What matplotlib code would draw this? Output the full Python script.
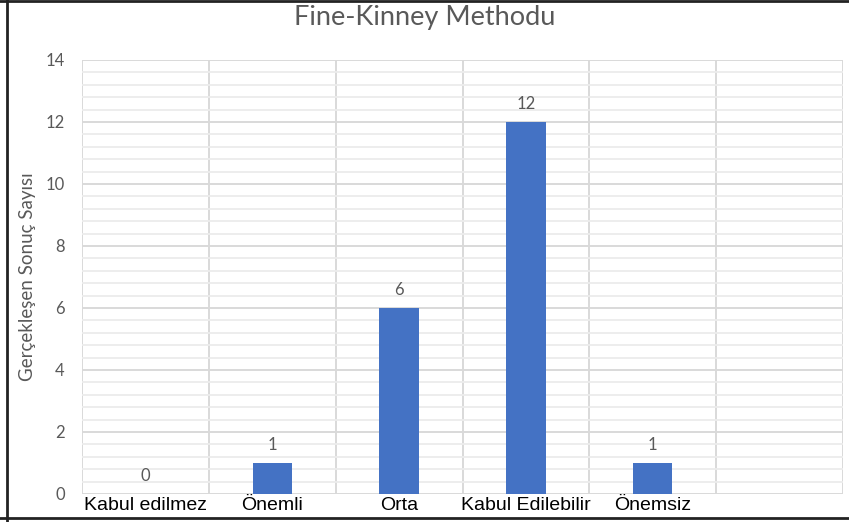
import matplotlib
matplotlib.use("Agg")
import matplotlib.pyplot as plt
from matplotlib.lines import Line2D
from matplotlib.ticker import MultipleLocator, FixedLocator
import numpy as np

# Risk classes and the number of results in each
categories = ["Kabul edilmez", "Önemli", "Orta", "Kabul Edilebilir", "Önemsiz"]
counts = [0, 1, 6, 12, 1]
n_slots = 6  # the category axis reserves one extra, empty slot on the right
y_ticks = [0, 2, 4, 6, 8, 10, 12, 14]

title = "Fine-Kinney Methodu"
y_label = "Gerçekleşen Sonuç Sayısı"

grey_text = "#595959"
bar_color = "#4472C4"

fig = plt.figure(figsize=(8.49, 5.22), dpi=100)
ax = fig.add_axes([82 / 849, 1 - 494 / 522, (843 - 82) / 849, (494 - 60) / 522])

x = np.arange(len(categories))
bars = ax.bar(x, counts, width=0.31, color=bar_color, zorder=3)

ax.set_xlim(-0.5, n_slots - 0.5)
ax.set_ylim(0, 14)

# Grid: major and minor horizontal lines, vertical lines on category boundaries
ax.yaxis.set_major_locator(FixedLocator(y_ticks))
ax.yaxis.set_minor_locator(MultipleLocator(0.4))
ax.xaxis.set_major_locator(FixedLocator(list(x)))
ax.xaxis.set_minor_locator(FixedLocator(np.arange(n_slots + 1) - 0.5))
ax.grid(axis="y", which="major", color="#d9d9d9", linewidth=1.4, zorder=0)
ax.grid(axis="y", which="minor", color="#ececec", linewidth=1.3, zorder=0)
ax.grid(axis="x", which="minor", color="#d9d9d9", linewidth=1.4, zorder=0)
ax.grid(axis="x", which="major", visible=False)
ax.set_axisbelow(True)

for s in ax.spines.values():
    s.set_visible(False)

ax.tick_params(axis="both", which="both", length=0)
ax.set_xticklabels(categories, fontsize=14, family=["Liberation Sans", "DejaVu Sans"],
                   color="black")
ax.tick_params(axis="x", pad=2)
ax.set_yticks(y_ticks)
ax.set_yticklabels([str(v) for v in y_ticks], fontsize=12, family="Lato", color=grey_text)
ax.tick_params(axis="y", pad=12.5)

ax.set_ylabel(y_label, fontsize=13.5, family="Lato", color=grey_text, labelpad=6.5)

# Value labels above each bar
for xi, v in zip(x, counts):
    ax.annotate(str(v), (xi, v), xytext=(0, 13), textcoords="offset points",
                ha="center", va="center", fontsize=12, family="Lato", color=grey_text)

fig.text(0.5, 1 - 17 / 522, title, ha="center", va="center", fontsize=19.5,
         family="Lato", color=grey_text)

# Frame lines along the top, left and bottom edges
frame = dict(color="#222222", linewidth=2.0, transform=fig.transFigure)
fig.add_artist(Line2D([0, 1], [1 - 1 / 522, 1 - 1 / 522], **frame))
fig.add_artist(Line2D([7 / 849, 7 / 849], [0, 1], **frame))
fig.add_artist(Line2D([0, 1], [1 - 518 / 522, 1 - 518 / 522], **frame))

fig.savefig("out.png", dpi=100)
